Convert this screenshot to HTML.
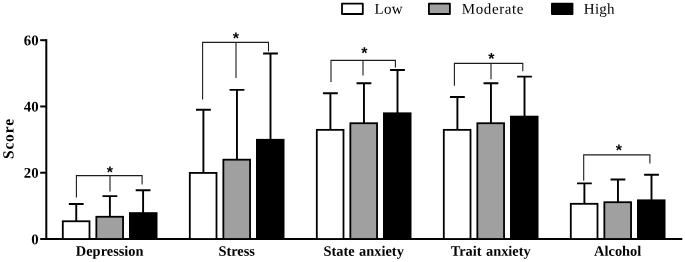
<!DOCTYPE html>
<html><head><meta charset="utf-8"><title>Chart</title>
<style>
html,body{margin:0;padding:0;background:#fff;}
body{width:685px;height:262px;overflow:hidden;}
svg{display:block;will-change:transform;text-rendering:geometricPrecision;font-family:"Liberation Serif",serif;}
</style></head><body>
<svg width="685" height="262" viewBox="0 0 685 262">
<rect width="685" height="262" fill="#fff"/>
<g stroke="#000" stroke-width="2" fill="none">
<line x1="46.3" y1="39.20" x2="46.3" y2="240.00"/>
<line x1="40.2" y1="239.00" x2="682.3" y2="239.00"/>
<line x1="40.2" y1="172.73" x2="46.3" y2="172.73"/>
<line x1="40.2" y1="106.47" x2="46.3" y2="106.47"/>
<line x1="40.2" y1="40.20" x2="46.3" y2="40.20"/>
</g>
<path d="M76.25 221.27V203.98M68.85 203.98H83.65" stroke="#000" stroke-width="1.9" fill="none"/>
<rect x="62.80" y="221.27" width="26.70" height="17.73" fill="#ffffff" stroke="#000" stroke-width="1.8"/>
<path d="M109.90 216.77V196.09M102.50 196.09H117.30" stroke="#000" stroke-width="1.9" fill="none"/>
<rect x="96.35" y="216.77" width="26.70" height="22.23" fill="#a0a0a0" stroke="#000" stroke-width="1.8"/>
<path d="M143.10 213.09V190.23M135.70 190.23H150.50" stroke="#000" stroke-width="1.9" fill="none"/>
<rect x="129.90" y="213.09" width="26.70" height="25.91" fill="#000000" stroke="#000" stroke-width="1.8"/>
<path d="M203.40 172.73V109.78M196.00 109.78H210.80" stroke="#000" stroke-width="1.9" fill="none"/>
<rect x="189.80" y="172.93" width="26.70" height="66.07" fill="#ffffff" stroke="#000" stroke-width="1.8"/>
<path d="M236.95 159.48V89.90M229.55 89.90H244.35" stroke="#000" stroke-width="1.9" fill="none"/>
<rect x="223.35" y="159.68" width="26.70" height="79.32" fill="#a0a0a0" stroke="#000" stroke-width="1.8"/>
<path d="M270.50 139.60V53.45M263.10 53.45H277.90" stroke="#000" stroke-width="1.9" fill="none"/>
<rect x="256.90" y="139.80" width="26.70" height="99.20" fill="#000000" stroke="#000" stroke-width="1.8"/>
<path d="M330.40 129.66V93.21M323.00 93.21H337.80" stroke="#000" stroke-width="1.9" fill="none"/>
<rect x="316.80" y="129.86" width="26.70" height="109.14" fill="#ffffff" stroke="#000" stroke-width="1.8"/>
<path d="M363.95 123.03V83.27M356.55 83.27H371.35" stroke="#000" stroke-width="1.9" fill="none"/>
<rect x="350.35" y="123.23" width="26.70" height="115.77" fill="#a0a0a0" stroke="#000" stroke-width="1.8"/>
<path d="M397.50 113.09V70.02M390.10 70.02H404.90" stroke="#000" stroke-width="1.9" fill="none"/>
<rect x="383.90" y="113.29" width="26.70" height="125.71" fill="#000000" stroke="#000" stroke-width="1.8"/>
<path d="M457.40 129.66V97.02M450.00 97.02H464.80" stroke="#000" stroke-width="1.9" fill="none"/>
<rect x="443.80" y="129.86" width="26.70" height="109.14" fill="#ffffff" stroke="#000" stroke-width="1.8"/>
<path d="M490.95 123.03V83.27M483.55 83.27H498.35" stroke="#000" stroke-width="1.9" fill="none"/>
<rect x="477.35" y="123.23" width="26.70" height="115.77" fill="#a0a0a0" stroke="#000" stroke-width="1.8"/>
<path d="M524.50 116.41V76.65M517.10 76.65H531.90" stroke="#000" stroke-width="1.9" fill="none"/>
<rect x="510.90" y="116.61" width="26.70" height="122.39" fill="#000000" stroke="#000" stroke-width="1.8"/>
<path d="M584.40 203.81V183.34M577.00 183.34H591.80" stroke="#000" stroke-width="1.9" fill="none"/>
<rect x="570.80" y="203.81" width="26.70" height="35.19" fill="#ffffff" stroke="#000" stroke-width="1.8"/>
<path d="M617.95 202.22V179.53M610.55 179.53H625.35" stroke="#000" stroke-width="1.9" fill="none"/>
<rect x="604.35" y="202.22" width="26.70" height="36.78" fill="#a0a0a0" stroke="#000" stroke-width="1.8"/>
<path d="M651.50 200.30V174.72M644.10 174.72H658.90" stroke="#000" stroke-width="1.9" fill="none"/>
<rect x="637.90" y="200.30" width="26.70" height="38.70" fill="#000000" stroke="#000" stroke-width="1.8"/>
<g stroke="#1c1c1c" stroke-width="1.1" fill="none">
<path d="M76.4 197.4V175.6H142.1V184.4M110.0 175.6V191.5"/>
<path d="M202.6 99.4V42.4H268.5V51.5M236.0 42.4V77.9"/>
<path d="M331.0 81.9V60.4H395.4V67.5M363.0 60.4V75.5"/>
<path d="M454.4 85.7V63.35H522.8V71.3M491.0 63.35V79.3"/>
<path d="M583.7 180.7V154.9H649.9V163.6"/>
</g>
<text x="109.81" y="177.45" transform="rotate(0.03 109.81 177.45)" font-size="16" font-weight="bold" text-anchor="middle" font-family="Liberation Sans, sans-serif" fill="#000">*</text>
<text x="235.86" y="43.40" transform="rotate(0.03 235.86 43.40)" font-size="16" font-weight="bold" text-anchor="middle" font-family="Liberation Sans, sans-serif" fill="#000">*</text>
<text x="364.41" y="58.30" transform="rotate(0.03 364.41 58.30)" font-size="16" font-weight="bold" text-anchor="middle" font-family="Liberation Sans, sans-serif" fill="#000">*</text>
<text x="491.26" y="64.10" transform="rotate(0.03 491.26 64.10)" font-size="16" font-weight="bold" text-anchor="middle" font-family="Liberation Sans, sans-serif" fill="#000">*</text>
<text x="618.81" y="155.60" transform="rotate(0.03 618.81 155.60)" font-size="16" font-weight="bold" text-anchor="middle" font-family="Liberation Sans, sans-serif" fill="#000">*</text>
<text x="109.70" y="255.80" transform="rotate(0.03 109.70 255.80)" font-size="14.4" font-weight="bold" text-anchor="middle" word-spacing="0.8">Depression</text>
<text x="236.70" y="255.80" transform="rotate(0.03 236.70 255.80)" font-size="14.4" font-weight="bold" text-anchor="middle" word-spacing="0.8">Stress</text>
<text x="363.70" y="255.80" transform="rotate(0.03 363.70 255.80)" font-size="14.4" font-weight="bold" text-anchor="middle" word-spacing="0.8">State anxiety</text>
<text x="490.70" y="255.80" transform="rotate(0.03 490.70 255.80)" font-size="14.4" font-weight="bold" text-anchor="middle" word-spacing="0.8">Trait anxiety</text>
<text x="617.70" y="255.80" transform="rotate(0.03 617.70 255.80)" font-size="14.4" font-weight="bold" text-anchor="middle" word-spacing="0.8">Alcohol</text>
<text x="38.60" y="244.15" transform="rotate(0.03 38.60 244.15)" font-size="14.8" font-weight="bold" text-anchor="end">0</text>
<text x="38.60" y="177.88" transform="rotate(0.03 38.60 177.88)" font-size="14.8" font-weight="bold" text-anchor="end">20</text>
<text x="38.60" y="111.62" transform="rotate(0.03 38.60 111.62)" font-size="14.8" font-weight="bold" text-anchor="end">40</text>
<text x="38.60" y="45.35" transform="rotate(0.03 38.60 45.35)" font-size="14.8" font-weight="bold" text-anchor="end">60</text>
<text transform="translate(13.5,138.6) rotate(-90.03)" font-size="15.5" font-weight="bold" text-anchor="middle" letter-spacing="0.84">Score</text>
<rect x="342.00" y="3.6" width="20.80" height="10.4" fill="#fff" stroke="#000" stroke-width="1.8" stroke-linejoin="round"/>
<text x="374.60" y="13.70" transform="rotate(0.03 374.60 13.70)" font-size="15" letter-spacing="0.3">Low</text>
<rect x="428.90" y="3.6" width="21.00" height="10.4" fill="#a0a0a0" stroke="#000" stroke-width="1.8" stroke-linejoin="round"/>
<text x="461.80" y="13.70" transform="rotate(0.03 461.80 13.70)" font-size="15" letter-spacing="0.6">Moderate</text>
<rect x="551.90" y="3.6" width="20.60" height="10.4" fill="#000" stroke="#000" stroke-width="1.8" stroke-linejoin="round"/>
<text x="583.80" y="13.70" transform="rotate(0.03 583.80 13.70)" font-size="15" letter-spacing="0.25">High</text>
</svg>
</body></html>
